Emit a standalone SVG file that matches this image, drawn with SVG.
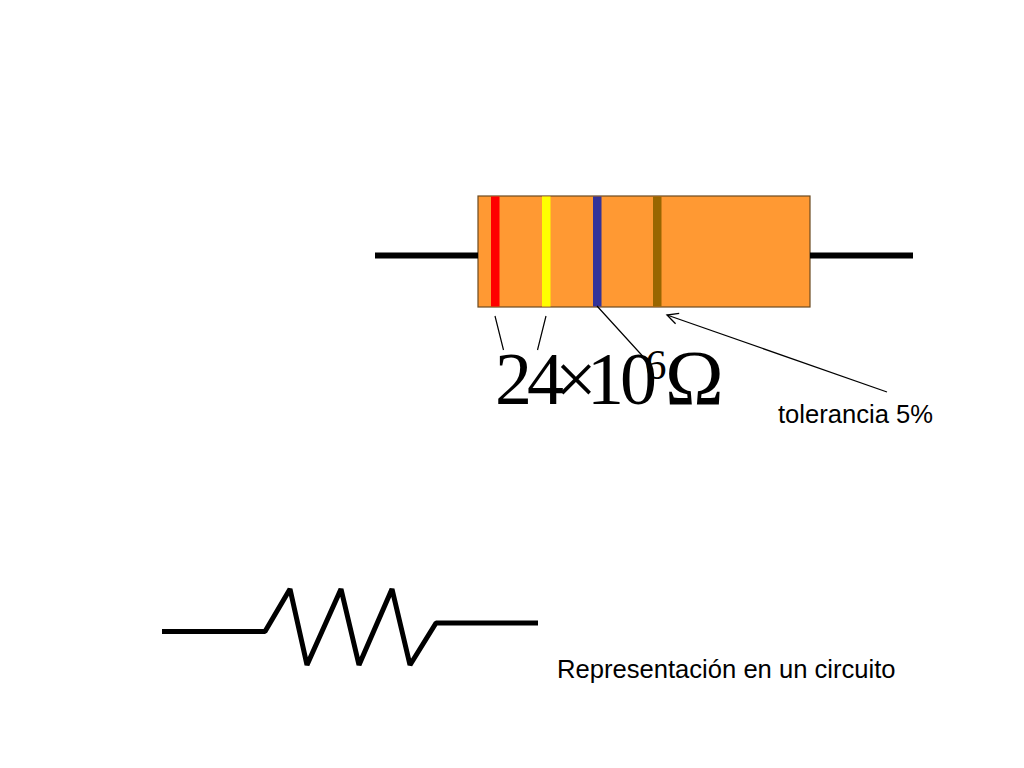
<svg xmlns="http://www.w3.org/2000/svg" width="1024" height="768" viewBox="0 0 1024 768">
<style>
.lead{stroke:#000;stroke-width:6;fill:none}
.wire{stroke:#000;stroke-width:5;fill:none;stroke-linejoin:bevel}
.thin{stroke:#000;stroke-width:1.200;fill:none}
.band{stroke:none}
.sans{font-family:"Liberation Sans",Arial,sans-serif;font-size:25.600px;fill:#000}
.serif{font-family:"Liberation Serif","Times New Roman",serif;fill:#000}
</style>
<defs>
<marker id="open" markerUnits="userSpaceOnUse" markerWidth="18" markerHeight="16" refX="15" refY="8" orient="auto"><path d="M4 2.500L15 8L4 13.500" fill="none" stroke="#000" stroke-width="1.300"/></marker>
</defs>
<rect width="1024" height="768" fill="#fff"/>
<g id="resistor">
<rect x="478" y="196" width="332" height="111" fill="#ff9933" stroke="#6b4a20" stroke-width="1.200"/>
<rect class="band" x="491" y="196.500" width="8.500" height="110" fill="#ff0000"/>
<rect class="band" x="542" y="196.500" width="8.500" height="110" fill="#ffff00"/>
<rect class="band" x="593" y="196.500" width="8.500" height="110" fill="#333399"/>
<rect class="band" x="653" y="196.500" width="8.500" height="110" fill="#996600"/>
</g>
<g id="connectors">
<path class="lead" d="M375 255.500H478M810 255.500H913"/>
<path class="thin" d="M495 316L503.500 350M546 316L537.500 350M597 306L648 362"/>
<path class="thin" d="M887 392L667 315" marker-end="url(#open)"/>
<path id="symbol" class="wire" d="M162 631.500H265L290 589L307 665L341 589L359 665L392 589L410 665L436 623H538"/>
</g>
<g id="formula">
<text class="serif" y="403.500" font-size="74" x="495 527 555 587 620">24×10</text>
<text class="serif" x="645" y="379" font-size="43">6</text>
<text class="serif" x="665" y="403.500" font-size="79">Ω</text>
</g>
<g id="label-tolerancia"><text class="sans" x="778" y="423">tolerancia 5%</text></g>
<g id="label-circuito"><text class="sans" x="557" y="678">Representación en un circuito</text></g>
</svg>
